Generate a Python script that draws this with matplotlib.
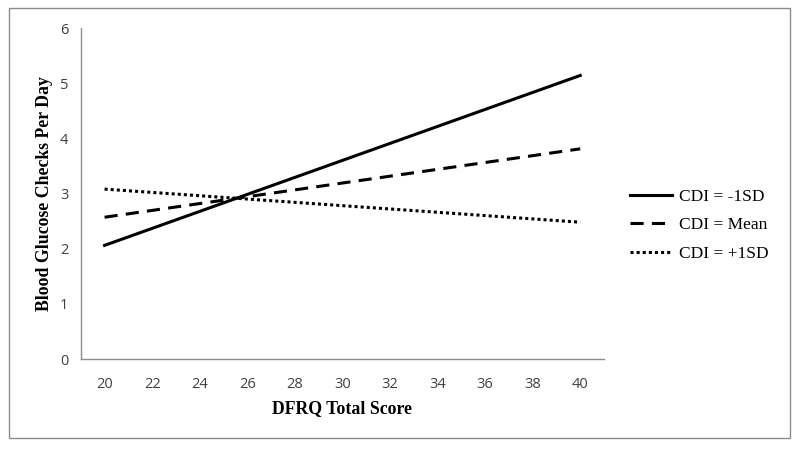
import matplotlib
matplotlib.use("Agg")
import matplotlib.pyplot as plt
from matplotlib.patches import Rectangle

# endpoints of the simple slopes (DFRQ score 20 and 40)
dfrq = [20, 40]
low_cdi = [2.06, 5.14]
mean_cdi = [2.57, 3.81]
high_cdi = [3.08, 2.48]
series_names = ["CDI = -1SD", "CDI = Mean", "CDI = +1SD"]
x_ticks = list(range(20, 41, 2))
y_ticks = list(range(0, 7))

fig = plt.figure(figsize=(8, 4.49), dpi=100)
ax = fig.add_axes([0.101, 0.2004, 0.654, 0.7372])

lw = 2.2
ax.plot(dfrq, low_cdi, color="black", lw=lw, ls="-", label=series_names[0])
ax.plot(dfrq, mean_cdi, color="black", lw=lw, ls=(0, (4.3, 2.7)),
        dash_capstyle="butt", label=series_names[1])
ax.plot(dfrq, high_cdi, color="black", lw=lw, ls=(0, (1, 1)),
        dash_capstyle="butt", label=series_names[2])

ax.set_xlim(19, 41)
ax.set_ylim(0, 6)
ax.set_xticks(x_ticks)
ax.set_yticks(y_ticks)
ax.tick_params(length=0, labelsize=10.5, labelcolor="#404040", pad=13)
for lab in ax.get_xticklabels() + ax.get_yticklabels():
    lab.set_family("Open Sans")
ax.tick_params(axis="y", pad=9)

for s in ["top", "right"]:
    ax.spines[s].set_visible(False)
for s in ["left", "bottom"]:
    ax.spines[s].set_color("#8c8c8c")
    ax.spines[s].set_linewidth(1)

ax.set_xlabel("DFRQ Total Score", family="Liberation Serif", weight="bold",
              fontsize=12.8, labelpad=6)
ax.set_ylabel("Blood Glucose Checks Per Day", family="Liberation Serif",
              weight="bold", fontsize=12.8, labelpad=5)

leg = fig.legend(loc="upper left", bbox_to_anchor=(0.7685, 0.615), frameon=False,
                 prop={"family": "Liberation Serif", "size": 12.5},
                 handlelength=2.4, handletextpad=0.4, labelspacing=0.72)

fig.patches.append(Rectangle((0.011, 0.024), 0.977, 0.958, transform=fig.transFigure,
                             fill=False, edgecolor="#8c8c8c", lw=1))

fig.savefig("out.png", dpi=100)
